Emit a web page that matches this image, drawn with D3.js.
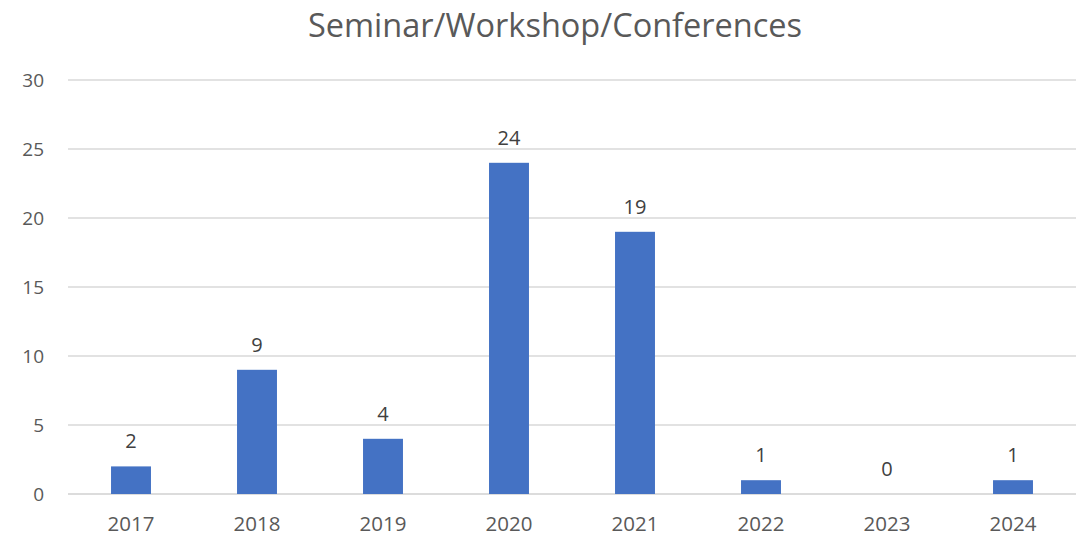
<!DOCTYPE html>
<html><head><meta charset="utf-8">
<script src="https://cdn.jsdelivr.net/npm/d3@7"></script>
<style>body{margin:0;background:#fff}svg{display:block}text{font-family:"Open Sans",sans-serif}</style>
</head><body>
<svg id="c" width="1080" height="537"></svg>
<script>
const categories = ["2017","2018","2019","2020","2021","2022","2023","2024"];
const values = [2,9,4,24,19,1,0,1];
const yTicks = [0,5,10,15,20,25,30];
const title = "Seminar/Workshop/Conferences";

const svg = d3.select("#c");
const W = 1080, H = 537;
const m = {left:68, right:4, top:80, bottom:43};
const x = d3.scaleBand().domain(categories).range([m.left, W - m.right]).paddingInner(0.683).paddingOuter(0.3415);
const y = d3.scaleLinear().domain([0,30]).range([H - m.bottom, m.top]);

svg.append("g").selectAll("line").data(yTicks).join("line")
  .attr("x1", m.left).attr("x2", W - m.right)
  .attr("y1", d => y(d)).attr("y2", d => y(d))
  .attr("stroke", d => d === 0 ? "#d0d0d0" : "#d9d9d9").attr("stroke-width", 1.3);

const yAxis = d3.axisLeft(y).tickValues(yTicks).tickSize(0).tickPadding(24);
const ga = svg.append("g").attr("transform", `translate(${m.left},0)`).call(yAxis);
ga.select(".domain").remove();
ga.selectAll("text").attr("font-size", 19).attr("fill", "#595959").attr("font-family", "Open Sans");

const xAxis = d3.axisBottom(x).tickSize(0).tickPadding(22);
const gx = svg.append("g").attr("transform", `translate(0,${H - m.bottom})`).call(xAxis);
gx.select(".domain").remove();
gx.selectAll("text").attr("font-size", 20.5).attr("fill", "#595959").attr("font-family", "Open Sans");

svg.append("g").selectAll("rect").data(values).join("rect")
  .attr("x", (d,i) => x(categories[i])).attr("width", x.bandwidth())
  .attr("y", d => y(d)).attr("height", d => y(0) - y(d))
  .attr("fill", "#4472c4");

svg.append("g").selectAll("text").data(values).join("text")
  .attr("x", (d,i) => x(categories[i]) + x.bandwidth()/2)
  .attr("y", d => y(d) - 18)
  .attr("text-anchor", "middle").attr("font-size", 20).attr("fill", "#404040")
  .text(d => d);

svg.append("text").attr("x", 555).attr("y", 37).attr("text-anchor", "middle")
  .attr("font-size", 32.5).attr("fill", "#595959").text(title);
</script>
</body></html>
